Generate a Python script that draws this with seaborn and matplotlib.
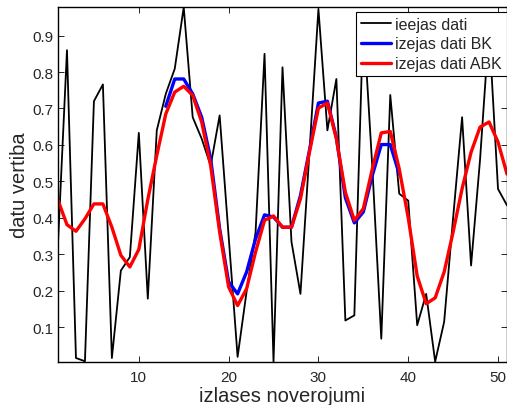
import numpy as np
import pandas as pd
import seaborn as sns
from matplotlib import pyplot as plt

# ---------------- data ----------------
obs = np.arange(1, 52)

ieejas_dati = [0.33, 0.86, 0.015, 0.006, 0.72, 0.766, 0.015, 0.255, 0.292, 0.633,
               0.178, 0.640, 0.740, 0.809, 0.978, 0.676, 0.617, 0.543, 0.681, 0.35,
               0.018, 0.197, 0.36, 0.850, 0.005, 0.813, 0.334, 0.191, 0.58, 0.973,
               0.640, 0.781, 0.118, 0.132, 0.95, 0.54, 0.068, 0.737, 0.466, 0.447,
               0.105, 0.191, 0.005, 0.114, 0.40, 0.676, 0.269, 0.56, 0.92, 0.479,
               0.434]

izejas_abk = [0.448, 0.381, 0.363, 0.397, 0.438, 0.438, 0.374, 0.297, 0.265, 0.313,
              0.45, 0.571, 0.685, 0.745, 0.761, 0.736, 0.663, 0.543, 0.361, 0.210,
              0.159, 0.205, 0.306, 0.393, 0.405, 0.374, 0.374, 0.452, 0.580, 0.701,
              0.715, 0.617, 0.470, 0.393, 0.425, 0.534, 0.633, 0.637, 0.534, 0.40,
              0.24, 0.164, 0.180, 0.251, 0.361, 0.480, 0.580, 0.649, 0.663, 0.608,
              0.52]

# BK output only visible for observations 13..39
bk_obs = np.arange(13, 40)
izejas_bk = [0.706, 0.781, 0.781, 0.740, 0.676, 0.562, 0.370, 0.224, 0.191, 0.251,
             0.342, 0.408, 0.402, 0.374, 0.374, 0.461, 0.585, 0.715, 0.720, 0.62,
             0.455, 0.386, 0.416, 0.516, 0.601, 0.601, 0.52]

df_in = pd.DataFrame({'n': obs, 'val': ieejas_dati})
df_abk = pd.DataFrame({'n': obs, 'val': izejas_abk})
df_bk = pd.DataFrame({'n': bk_obs, 'val': izejas_bk})

# ---------------- style ----------------
sns.set_style('ticks')
plt.rcParams['font.family'] = ['Liberation Sans', 'DejaVu Sans']
plt.rcParams['xtick.direction'] = 'in'
plt.rcParams['ytick.direction'] = 'in'

fig = plt.figure(figsize=(5.07, 4.06), dpi=100)
ax = fig.add_axes([58 / 507, 1 - 363 / 406, 449 / 507, 355.5 / 406])

sns.lineplot(data=df_in, x='n', y='val', color='black', lw=1.3, label='ieejas dati', ax=ax)
sns.lineplot(data=df_bk, x='n', y='val', color='#0000ff', lw=2.4, label='izejas dati BK', ax=ax)
sns.lineplot(data=df_abk, x='n', y='val', color='#ff0000', lw=2.4, label='izejas dati ABK', ax=ax)

ax.set_xlim(1, 51)
ax.set_ylim(0.004, 0.98)
ax.set_xticks([10, 20, 30, 40, 50])
ax.set_yticks([0.1, 0.2, 0.3, 0.4, 0.5, 0.6, 0.7, 0.8, 0.9])
ax.tick_params(axis='both', labelsize=11, length=4, width=0.6, color='black',
               top=True, right=True)
ax.tick_params(axis='x', pad=6)
ax.tick_params(axis='y', pad=3)
for s in ax.spines.values():
    s.set_linewidth(1.0)
    s.set_color('black')

ax.set_xlabel('izlases noverojumi', fontsize=14.5, labelpad=1)
ax.set_ylabel('datu vertiba', fontsize=14.5, labelpad=3)

leg = ax.legend(loc='upper right', bbox_to_anchor=(1.0, 0.985), borderaxespad=0,
                fontsize=11.5, frameon=True, fancybox=False, framealpha=1,
                handlelength=1.9, handletextpad=0.25, labelspacing=0.3,
                borderpad=0.3)
leg.get_frame().set_edgecolor('black')
leg.get_frame().set_linewidth(0.8)

fig.savefig('out.png', dpi=100)
